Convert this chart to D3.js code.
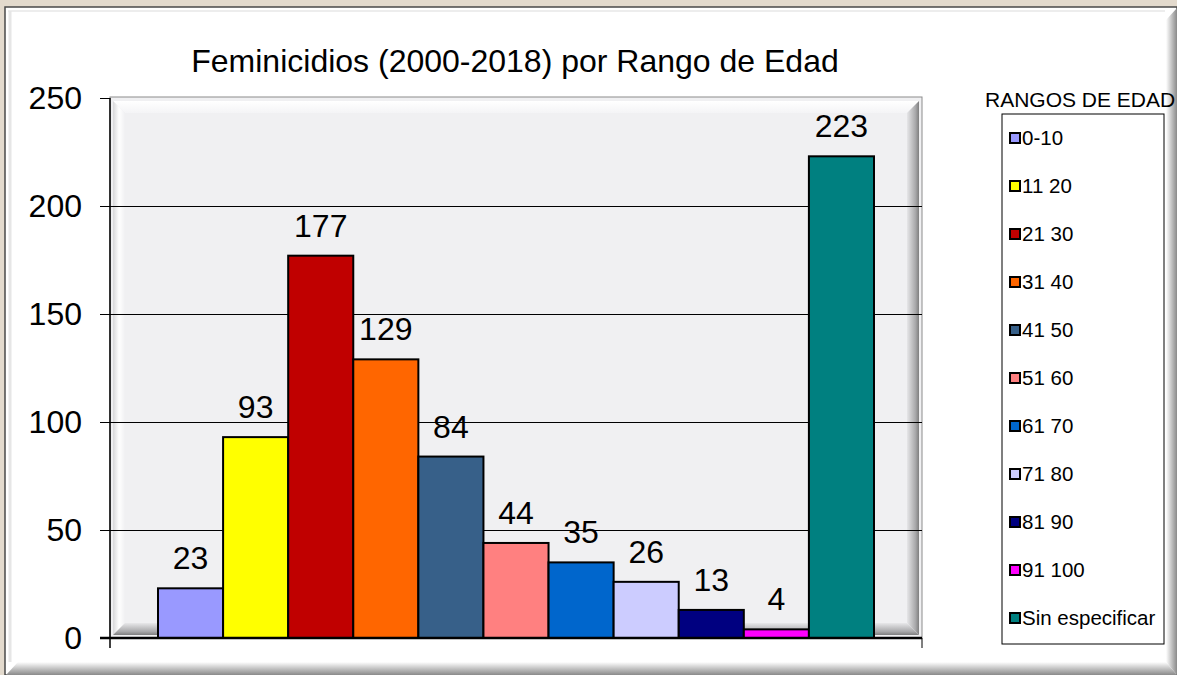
<!DOCTYPE html>
<html>
<head>
<meta charset="utf-8">
<script src="https://cdn.jsdelivr.net/npm/d3@7"></script>
<style>
    body { margin: 0; background: #e3dacd; }
    svg { display: block; font-family: "Liberation Sans", Arial, sans-serif; }
</style>
</head>
<body>
<div id="chart"></div>
<script>
const categories = ["0-10", "11 20", "21 30", "31 40", "41 50", "51 60", "61 70", "71 80", "81 90", "91 100", "Sin especificar"];
const values = [23, 93, 177, 129, 84, 44, 35, 26, 13, 4, 223];
const colors = ["#9999ff", "#ffff00", "#c00000", "#ff6600", "#376089", "#ff8080", "#0066cc", "#ccccff", "#000080", "#ff00ff", "#008080"];
const yTicks = [0, 50, 100, 150, 200, 250];

const width = 1177;
const height = 675;
const plot = { left: 110, right: 922, top: 98, bottom: 638 };

const svg = d3.select("#chart")
    .append("svg")
    .attr("width", width)
    .attr("height", height);

const defs = svg.append("defs");

// gradients for the bevel edges
function grad(id, x1, y1, x2, y2, stops) {
    const g = defs.append("linearGradient").attr("id", id)
        .attr("x1", x1).attr("y1", y1).attr("x2", x2).attr("y2", y2);
    stops.forEach(s => g.append("stop").attr("offset", s[0]).attr("stop-color", s[1]));
}
grad("gRight", 0, 0, 1, 0, [[0, "#ffffff"], [0.6, "#b8b8b8"], [1, "#8a8a8a"]]);
grad("gBottom", 0, 0, 0, 1, [[0, "#ffffff"], [0.6, "#b8b8b8"], [1, "#8a8a8a"]]);
grad("pTop", 0, 0, 0, 1, [[0, "#ffffff"], [1, "#f4f4f6"]]);
grad("pLeft", 0, 0, 1, 0, [[0, "#d8d8da"], [0.5, "#ffffff"], [1, "#f0f0f2"]]);
grad("pRight", 0, 0, 1, 0, [[0, "#e6e6e8"], [0.7, "#a9a9ab"], [1, "#7f7f7f"]]);
grad("pBottom", 0, 0, 0, 1, [[0, "#e8e8ea"], [0.7, "#a9a9ab"], [1, "#7f7f7f"]]);

// textured background (plain approximation)
svg.append("rect").attr("width", width).attr("height", height).attr("fill", "#e3dacd");

// outer white panel
svg.append("rect")
    .attr("x", 5).attr("y", 7)
    .attr("width", width - 5).attr("height", height - 7)
    .attr("fill", "#ffffff")
    .attr("stroke", "#4a4a4a")
    .attr("stroke-width", 1.5);
svg.append("line")
    .attr("x1", 8).attr("x2", width - 12).attr("y1", 11).attr("y2", 11)
    .attr("stroke", "#ededed").attr("stroke-width", 2);
svg.append("line")
    .attr("x1", 10).attr("x2", 10).attr("y1", 11).attr("y2", height - 13)
    .attr("stroke", "#e6e6e6").attr("stroke-width", 3);
svg.append("polygon")
    .attr("points", `${width - 11},${20} ${width},${8} ${width},${height} ${width - 11},${height - 13}`)
    .attr("fill", "url(#gRight)");
svg.append("polygon")
    .attr("points", `${18},${height - 13} ${width - 11},${height - 13} ${width},${height} ${6},${height}`)
    .attr("fill", "url(#gBottom)");

const y = d3.scaleLinear().domain([0, 250]).range([plot.bottom, plot.top]);
const x = d3.scaleBand().domain(categories).range([158, 874]).paddingInner(0);

// plot area with inner bevel
svg.append("rect")
    .attr("x", plot.left).attr("y", plot.top - 1)
    .attr("width", plot.right - plot.left).attr("height", plot.bottom - plot.top + 1)
    .attr("fill", "#f0f0f2")
    .attr("stroke", "#8c8c8c");
const b = 12, i0 = 3;
const L = plot.left + i0, R = plot.right - i0, T = plot.top + i0, B = plot.bottom - i0;
svg.append("polygon").attr("points", `${L},${T} ${R},${T} ${R - b},${T + b} ${L + b},${T + b}`).attr("fill", "url(#pTop)");
svg.append("polygon").attr("points", `${L},${T} ${L + b},${T + b} ${L + b},${B - b} ${L},${B}`).attr("fill", "url(#pLeft)");
svg.append("polygon").attr("points", `${R},${T} ${R},${B} ${R - b},${B - b} ${R - b},${T + b}`).attr("fill", "url(#pRight)");
svg.append("polygon").attr("points", `${L},${B} ${L + b},${B - b} ${R - b},${B - b} ${R},${B}`).attr("fill", "url(#pBottom)");

// gridlines
svg.append("g")
    .selectAll("line")
    .data(yTicks.filter(d => d > 0 && d < 250))
    .join("line")
    .attr("x1", plot.left).attr("x2", plot.right)
    .attr("y1", d => Math.round(y(d)) + 0.5).attr("y2", d => Math.round(y(d)) + 0.5)
    .attr("stroke", "#000").attr("stroke-width", 1);

// y axis
const yAxis = svg.append("g")
    .attr("transform", `translate(${plot.left},0)`)
    .call(d3.axisLeft(y).tickValues(yTicks).tickSize(10).tickPadding(18));
yAxis.select(".domain").attr("stroke", "#000").attr("stroke-width", 1.5)
    .attr("d", `M0,${plot.top}V${plot.bottom + 10}`);
yAxis.selectAll(".tick line").attr("stroke", "#000");
yAxis.selectAll(".tick text")
    .attr("fill", "#000")
    .style("font-size", "32px")
    .style("font-family", "Liberation Sans, Arial, sans-serif");

// bars
svg.append("g")
    .selectAll("rect")
    .data(values)
    .join("rect")
    .attr("x", (d, i) => x(categories[i]))
    .attr("y", d => y(d))
    .attr("width", x.bandwidth())
    .attr("height", d => y(0) - y(d))
    .attr("fill", (d, i) => colors[i])
    .attr("stroke", "#000")
    .attr("stroke-width", 2);

// x axis line with end ticks
svg.append("line")
    .attr("x1", plot.left - 10).attr("x2", plot.right)
    .attr("y1", plot.bottom).attr("y2", plot.bottom)
    .attr("stroke", "#000").attr("stroke-width", 2.5);
svg.append("line")
    .attr("x1", plot.right).attr("x2", plot.right)
    .attr("y1", plot.bottom).attr("y2", plot.bottom + 10)
    .attr("stroke", "#000");

// value labels
svg.append("g")
    .selectAll("text")
    .data(values)
    .join("text")
    .attr("x", (d, i) => x(categories[i]) + x.bandwidth() / 2)
    .attr("y", d => y(d) - 19)
    .attr("text-anchor", "middle")
    .style("font-size", "32px")
    .text(d => d);

// title
svg.append("text")
    .attr("x", 515)
    .attr("y", 72)
    .attr("text-anchor", "middle")
    .style("font-size", "32px")
    .text("Feminicidios (2000-2018) por Rango de Edad");

// legend
svg.append("text")
    .attr("x", 985)
    .attr("y", 107)
    .style("font-size", "21px")
    .text("RANGOS DE EDAD");

svg.append("rect")
    .attr("x", 1002).attr("y", 114)
    .attr("width", 162).attr("height", 530)
    .attr("fill", "#fff")
    .attr("stroke", "#000");

const legend = svg.append("g")
    .selectAll("g")
    .data(categories)
    .join("g")
    .attr("transform", (d, i) => `translate(1010,${145 + i * 48})`);

legend.append("rect")
    .attr("x", 0).attr("y", -12)
    .attr("width", 10).attr("height", 10)
    .attr("fill", (d, i) => colors[i])
    .attr("stroke", "#000")
    .attr("stroke-width", 2);

legend.append("text")
    .attr("x", 12)
    .attr("y", 0)
    .style("font-size", "20.5px")
    .text(d => d);
</script>
</body>
</html>
